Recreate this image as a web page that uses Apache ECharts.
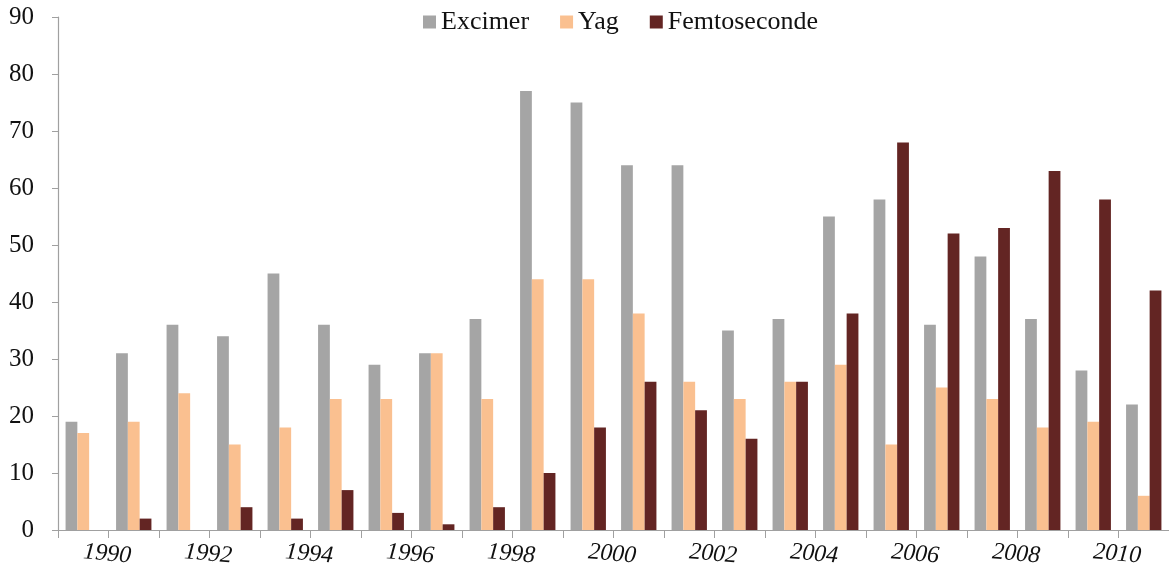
<!DOCTYPE html>
<html>
<head>
<meta charset="utf-8">
<script src="https://cdn.jsdelivr.net/npm/echarts@6/dist/echarts.min.js"></script>
<style>
html,body{margin:0;padding:0;background:#fff;}
#chart{width:1169px;height:573px;}
</style>
</head>
<body>
<div id="chart"></div>
<script>
var years = ['1990','1991','1992','1993','1994','1995','1996','1997','1998','1999','2000','2001','2002','2003','2004','2005','2006','2007','2008','2009','2010','2011'];
var excimer = [19,31,36,34,45,36,29,31,37,77,75,64,64,35,37,55,58,36,48,37,28,22];
var yag = [17,19,24,15,18,23,23,31,23,44,44,38,26,23,26,29,15,25,23,18,19,6];
var femto = [0,2,0,4,2,7,3,1,4,10,18,26,21,16,26,38,68,52,53,63,58,42];
var yTicks = [0,10,20,30,40,50,60,70,80,90];

var font = '"Liberation Serif","Times New Roman",serif';
var chart = echarts.init(document.getElementById('chart'));
var barStyle = function(c){ return {color:c}; };
chart.setOption({
  animation:false,
  textStyle:{fontFamily:font},
  legend:{
    top:4, left:418,
    icon:'rect',
    itemWidth:13, itemHeight:13, itemGap:31,
    textStyle:{fontFamily:font, fontSize:26, color:'#111'},
    data:['Excimer','Yag','Femtoseconde']
  },
  grid:{left:58, right:0, top:17, bottom:43, containLabel:false},
  xAxis:{
    type:'category',
    data:years,
    boundaryGap:true,
    axisLine:{lineStyle:{color:'#a0a0a0', width:1.2}},
    axisTick:{show:true, interval:0, length:8, lineStyle:{color:'#a0a0a0'}},
    axisLabel:{interval:1, rotate:-5, margin:22, fontFamily:font, fontStyle:'italic', fontSize:24, color:'#111'}
  },
  yAxis:{
    type:'value', min:yTicks[0], max:yTicks[yTicks.length-1], interval:10,
    splitLine:{show:false},
    axisLine:{show:true, lineStyle:{color:'#a0a0a0', width:1.2}},
    axisTick:{show:true, length:6, lineStyle:{color:'#a0a0a0'}},
    axisLabel:{margin:24, fontFamily:font, fontSize:25, color:'#111'}
  },
  series:[
    {name:'Excimer', type:'bar', data:excimer, barGap:'0%', barCategoryGap:'30%', itemStyle:barStyle('#A5A5A5')},
    {name:'Yag', type:'bar', data:yag, barGap:'0%', barCategoryGap:'30%', itemStyle:barStyle('#FAC090')},
    {name:'Femtoseconde', type:'bar', data:femto, barGap:'0%', barCategoryGap:'30%', itemStyle:barStyle('#632523')}
  ]
});
</script>
</body>
</html>
